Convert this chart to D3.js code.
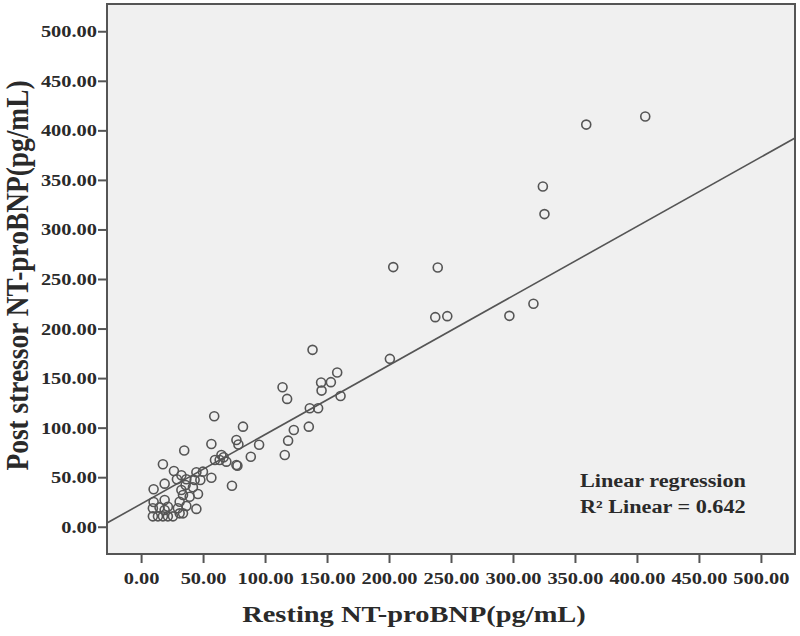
<!DOCTYPE html>
<html><head><meta charset="utf-8">
<script src="https://cdn.jsdelivr.net/npm/d3@7"></script>
<style>
body{margin:0;background:#fff}
svg text{font-family:"Liberation Serif","Times New Roman",serif;font-weight:bold;fill:#2a2a2a}
</style>
</head><body>
<svg id="chart" width="800" height="636"></svg>
<script>
// ---- data ----
const restingX = [
  406.7, 359.1, 324.1, 325.4, 316.5, 297.1, 247.0, 237.3, 239.3, 203.4, 200.7,
  138.3, 158.2, 145.2, 153.1, 145.6, 160.9, 114.1, 117.8, 136.1, 142.8, 123.2, 135.3, 118.6, 115.9,
  59.0, 82.2, 56.7, 34.8, 76.9, 78.5, 95.2, 88.5, 64.8, 66.6, 63.4, 68.8, 59.6, 76.9, 77.7,
  73.3, 56.7, 17.6, 26.5, 32.5, 44.6, 49.9, 28.9, 36.5, 43.2, 47.8,
  10.1, 19.0, 32.5, 35.9, 41.8, 45.9, 33.8, 39.2, 10.1, 19.0, 31.1, 44.6, 21.6, 36.5,
  9.5, 14.9, 29.7, 31.1, 33.8, 9.5, 13.6, 17.6, 21.6, 25.7, 19.0
];
const postStressY = [
  414.0, 405.8, 343.4, 315.5, 225.0, 212.8, 212.5, 211.5, 261.6, 262.0, 169.4,
  178.5, 155.6, 145.5, 145.9, 137.4, 132.0, 140.8, 129.0, 119.6, 119.6, 97.7, 101.0, 86.9, 72.4,
  111.5, 101.0, 83.5, 77.0, 87.6, 83.0, 82.8, 70.7, 72.4, 70.1, 67.4, 65.7, 67.4, 62.3, 61.6,
  41.4, 49.5, 63.0, 56.3, 52.0, 55.0, 55.6, 47.9, 47.9, 47.2, 47.2,
  37.8, 43.5, 37.1, 42.1, 39.8, 33.0, 32.0, 30.3, 25.0, 27.0, 25.3, 18.0, 20.2, 21.0,
  18.6, 19.5, 18.6, 13.5, 13.5, 10.5, 10.5, 10.5, 10.5, 10.5, 16.9
];
const tickValues = [0, 50, 100, 150, 200, 250, 300, 350, 400, 450, 500];
const axisDomain = [-27.5, 527.5];
const fitIntercept = 23.0;
const fitSlope = 0.70;
const xTitle = "Resting NT-proBNP(pg/mL)";
const yTitle = "Post stressor NT-proBNP(pg/mL)";
const fitLabels = ["Linear regression", "R\u00B2 Linear = 0.642"];

// ---- layout ----
const svg = d3.select("#chart");
const plot = {left: 107, right: 795, top: 4, bottom: 554};
const STRETCH = 1.2;
const ink = "#555";

const x = d3.scaleLinear().domain(axisDomain).range([plot.left, plot.right]);
const y = d3.scaleLinear().domain(axisDomain).range([plot.bottom, plot.top]);

function stretch(sel, k) {
  sel.each(function () {
    const w = this.getComputedTextLength();
    d3.select(this).attr("textLength", w * k).attr("lengthAdjust", "spacingAndGlyphs");
  });
}

svg.append("rect")
  .attr("x", plot.left).attr("y", plot.top)
  .attr("width", plot.right - plot.left).attr("height", plot.bottom - plot.top)
  .attr("fill", "#f0f0f0");

svg.append("clipPath").attr("id", "clip").append("rect")
  .attr("x", plot.left).attr("y", plot.top)
  .attr("width", plot.right - plot.left).attr("height", plot.bottom - plot.top);

// regression line
const lineX = axisDomain;
svg.append("line")
  .attr("clip-path", "url(#clip)")
  .attr("x1", x(lineX[0])).attr("y1", y(fitIntercept + fitSlope * lineX[0]))
  .attr("x2", x(lineX[1])).attr("y2", y(fitIntercept + fitSlope * lineX[1]))
  .attr("stroke", ink).attr("stroke-width", 1.6);

// points
const pts = restingX.map((v, i) => [v, postStressY[i]]);
svg.append("g").selectAll("circle").data(pts).join("circle")
  .attr("cx", d => x(d[0])).attr("cy", d => y(d[1]))
  .attr("r", 4.5)
  .attr("fill", "none").attr("stroke", ink).attr("stroke-width", 1.6);

// frame
svg.append("rect")
  .attr("x", plot.left).attr("y", plot.top)
  .attr("width", plot.right - plot.left).attr("height", plot.bottom - plot.top)
  .attr("fill", "none").attr("stroke", ink).attr("stroke-width", 2);

// axes
const fmt = d3.format(".2f");
const gx = svg.append("g").attr("transform", `translate(0,${plot.bottom})`)
  .call(d3.axisBottom(x).tickValues(tickValues).tickFormat(fmt).tickSizeInner(9).tickSizeOuter(0).tickPadding(9));
const gy = svg.append("g").attr("transform", `translate(${plot.left},0)`)
  .call(d3.axisLeft(y).tickValues(tickValues).tickFormat(fmt).tickSizeInner(9).tickSizeOuter(0).tickPadding(1));
[gx, gy].forEach(g => {
  g.select(".domain").remove();
  g.selectAll("line").attr("stroke", ink).attr("stroke-width", 2);
  g.selectAll("text").attr("font-size", 17).attr("fill", "#2a2a2a")
    .style("font-family", '"Liberation Serif","Times New Roman",serif').style("font-weight", "bold");
  stretch(g.selectAll("text"), STRETCH);
});

// axis titles
const xt = svg.append("text")
  .attr("x", 414).attr("y", 621.5)
  .attr("text-anchor", "middle").attr("font-size", 23)
  .text(xTitle);
stretch(xt, STRETCH * 1.03);

svg.append("text")
  .attr("transform", `translate(28,275.5) scale(1.15,1) rotate(-90)`)
  .attr("text-anchor", "middle").attr("font-size", 27.4)
  .text(yTitle);

// fit annotation
const ann = svg.append("g");
fitLabels.forEach((t, i) => {
  ann.append("text")
    .attr("x", 580).attr("y", 486.5 + i * 26.5)
    .attr("font-size", 18.5)
    .text(t);
});
stretch(ann.selectAll("text"), STRETCH);
</script>
</body></html>
